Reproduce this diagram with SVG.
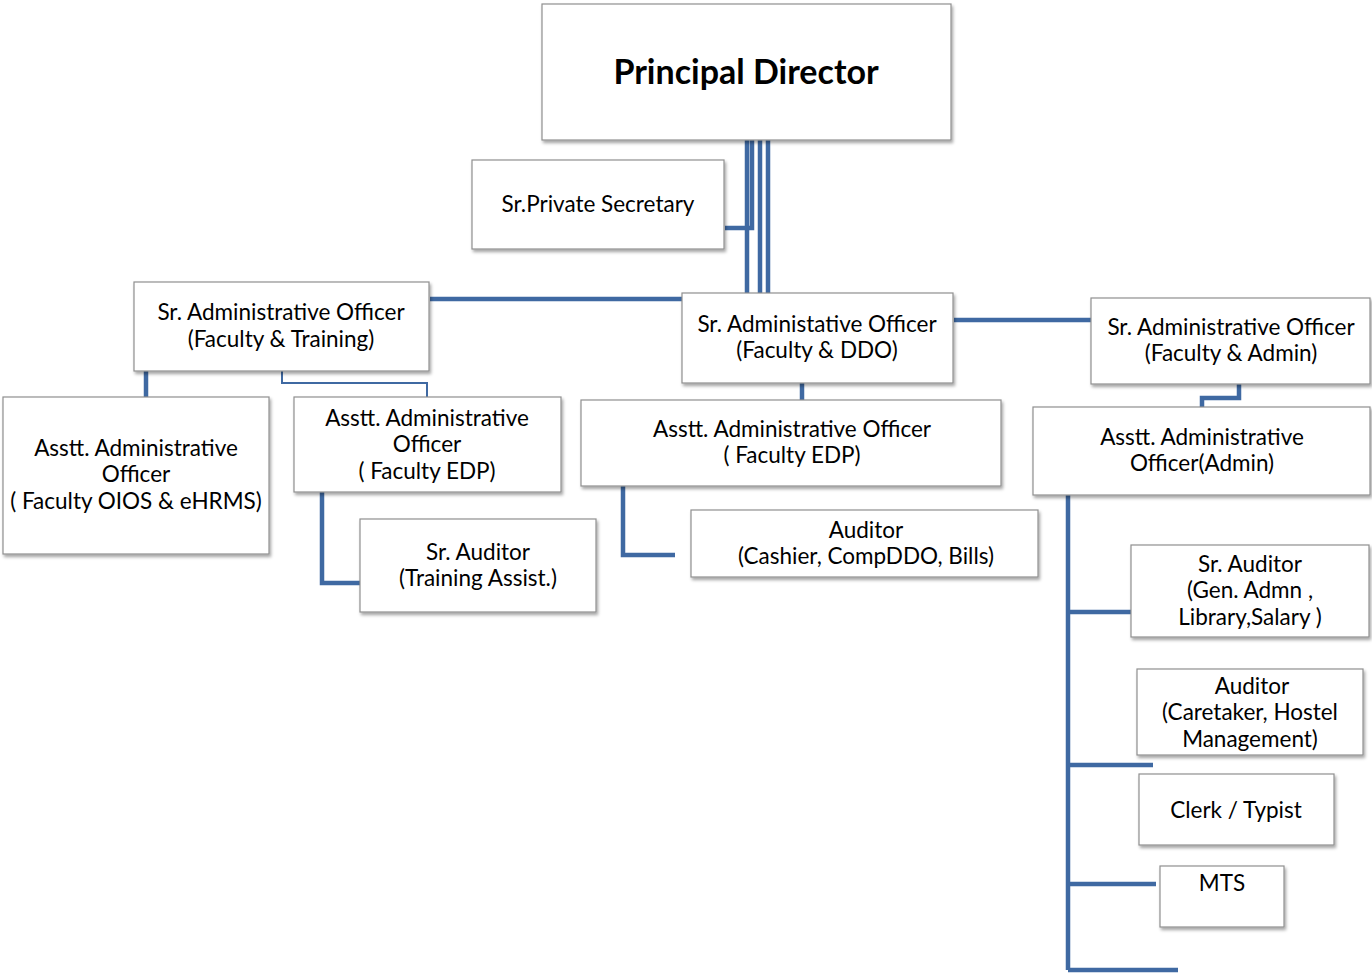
<svg xmlns="http://www.w3.org/2000/svg" width="1372" height="973" viewBox="0 0 1372 973">
<defs>
<filter id="sh" x="-10%" y="-10%" width="130%" height="140%">
<feDropShadow dx="1.5" dy="2.5" stdDeviation="1.8" flood-color="#000" flood-opacity="0.35"/>
</filter>
<style>
.box{fill:#fff;stroke:#8f8f8f;stroke-width:1.2;filter:url(#sh)}
.t{font-family:Lato,"Open Sans",sans-serif;font-size:22.5px;fill:#000;text-anchor:middle}
.b{font-family:Lato,"Open Sans",sans-serif;font-size:34px;font-weight:bold;fill:#000;text-anchor:middle}
.c{fill:none;stroke:#3f69a2;stroke-width:4.5}
.thin{fill:none;stroke:#3f69a2;stroke-width:2}
</style>
</defs>
<rect width="1372" height="973" fill="#fff"/>
<g id="connectors">
<path class="c" d="M747 140V293M752 140V228H725M760 140V293M768 140V293"/>
<path class="c" d="M430 299H682"/>
<path class="c" d="M954 320H1091"/>
<path class="c" d="M146 371V397"/>
<path class="thin" d="M282 371V383H427V397"/>
<path class="c" d="M322 492V583H360"/>
<path class="c" d="M802 383V400"/>
<path class="c" d="M623 486V555H675"/>
<path class="c" d="M1239 384V398H1202V407"/>
<path class="c" d="M1068 495V970M1068 612H1131M1068 765H1153M1068 884H1156M1068 970H1178"/>
</g>
<g id="principal"><rect class="box" x="542" y="4" width="409" height="136"/><text class="b" x="746" y="84">Principal Director</text></g>
<g id="private-secretary"><rect class="box" x="472" y="160" width="252" height="89"/><text class="t" x="598" y="212">Sr.Private Secretary</text></g>
<g id="sao-training"><rect class="box" x="134" y="282" width="295" height="89"/><text class="t" x="281" y="320">Sr. Administrative Officer</text><text class="t" x="281" y="347">(Faculty &amp; Training)</text></g>
<g id="sao-ddo"><rect class="box" x="682" y="293" width="271" height="90"/><text class="t" x="817" y="332">Sr. Administative Officer</text><text class="t" x="817" y="358">(Faculty &amp; DDO)</text></g>
<g id="sao-admin"><rect class="box" x="1091" y="298" width="279" height="86"/><text class="t" x="1231" y="335">Sr. Administrative Officer</text><text class="t" x="1231" y="361">(Faculty &amp; Admin)</text></g>
<g id="aao-oios"><rect class="box" x="3" y="397" width="266" height="157"/><text class="t" x="136" y="456">Asstt. Administrative</text><text class="t" x="136" y="482">Officer</text><text class="t" x="136" y="509">( Faculty OIOS &amp; eHRMS)</text></g>
<g id="aao-edp-left"><rect class="box" x="294" y="397" width="267" height="95"/><text class="t" x="427" y="426">Asstt. Administrative</text><text class="t" x="427" y="452">Officer</text><text class="t" x="427" y="479">( Faculty EDP)</text></g>
<g id="sr-auditor-training"><rect class="box" x="360" y="519" width="236" height="93"/><text class="t" x="478" y="560">Sr. Auditor</text><text class="t" x="478" y="586">(Training Assist.)</text></g>
<g id="aao-edp-mid"><rect class="box" x="581" y="400" width="420" height="86"/><text class="t" x="792" y="437">Asstt. Administrative Officer</text><text class="t" x="792" y="463">( Faculty EDP)</text></g>
<g id="auditor-cashier"><rect class="box" x="691" y="510" width="347" height="67"/><text class="t" x="866" y="538">Auditor</text><text class="t" x="866" y="564">(Cashier, CompDDO, Bills)</text></g>
<g id="aao-admin"><rect class="box" x="1033" y="407" width="337" height="88"/><text class="t" x="1202" y="445">Asstt. Administrative</text><text class="t" x="1202" y="471">Officer(Admin)</text></g>
<g id="sr-auditor-gen"><rect class="box" x="1131" y="545" width="238" height="92"/><text class="t" x="1250" y="572">Sr. Auditor</text><text class="t" x="1250" y="598">(Gen. Admn ,</text><text class="t" x="1250" y="625">Library,Salary )</text></g>
<g id="auditor-caretaker"><rect class="box" x="1137" y="669" width="226" height="86"/><text class="t" x="1252" y="694">Auditor</text><text class="t" x="1250" y="720">(Caretaker, Hostel</text><text class="t" x="1250" y="747">Management)</text></g>
<g id="clerk"><rect class="box" x="1139" y="774" width="195" height="71"/><text class="t" x="1236" y="818">Clerk / Typist</text></g>
<g id="mts"><rect class="box" x="1160" y="866" width="124" height="61"/><text class="t" x="1222" y="891">MTS</text></g>
</svg>
